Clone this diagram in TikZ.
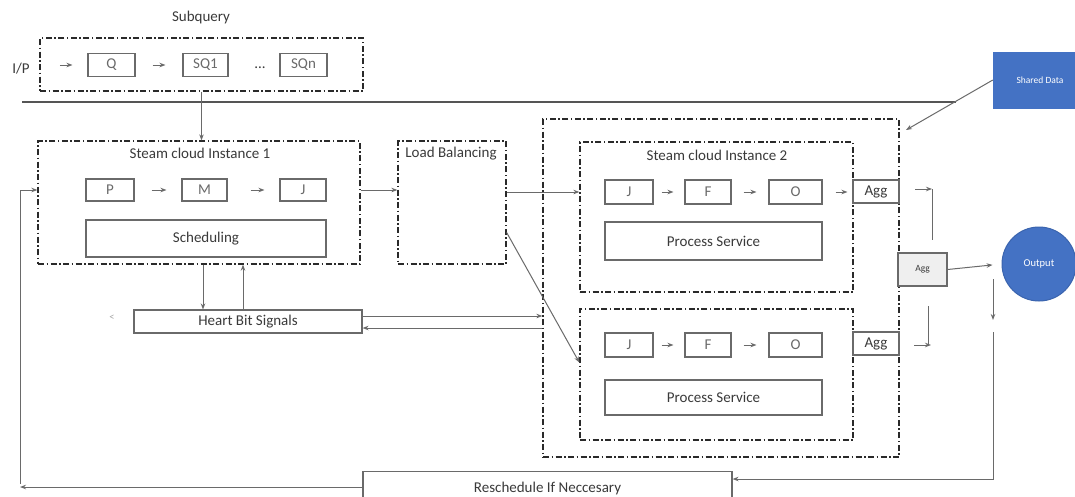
\documentclass[tikz,border=0pt]{standalone}
\usepackage{fontspec}
\setmainfont{Carlito}
\usetikzlibrary{arrows.meta,calc}
\newcommand\mainsz{\fontsize{15}{18}\selectfont}
\newcommand\smallsz{\fontsize{10.5}{12}\selectfont}
\newcommand\tinysz{\fontsize{9.5}{11}\selectfont}
\definecolor{lnc}{HTML}{6A6A6A}
\definecolor{ddc}{HTML}{2A2A2A}
\definecolor{txc}{HTML}{3A3A3A}
\definecolor{ltx}{HTML}{6A6A6A}
\definecolor{blu}{HTML}{4472C4}
\definecolor{bluedge}{HTML}{3A64AE}
\definecolor{aggfill}{HTML}{EFEFEF}
\begin{document}
\begin{tikzpicture}[x=1pt,y=-1pt,
  txt/.style={font=\mainsz, text=txc, inner sep=0pt},
  bx/.style={draw=lnc, line width=1.1pt, fill=white, inner sep=0pt, font=\mainsz, text=txc},
  bxl/.style={bx, text=ltx},
  dd/.style={draw=ddc, line width=1.3pt, dash pattern=on 6pt off 2.5pt on 1.5pt off 2.5pt, inner sep=0pt},
  arr/.style={draw=lnc, line width=1pt, -{Stealth[length=6pt,width=4.5pt]}},
  ln/.style={draw=lnc, line width=1pt},
]
\useasboundingbox (0,0) rectangle (1075,496);
\clip (0,0) rectangle (1075,496);
\fill[white] (0,0) rectangle (1075,496);

% ---------- Subquery ----------
\node[txt] (sublab) at (201,17) {Subquery};
\node[dd, minimum width=323, minimum height=53] (subq) at (201.5,64.5) {};
\node[txt] (ip) at (21,69) {I/P};
\node[bxl, minimum width=47, minimum height=23] (q) at (111.5,65) {Q};
\node[bxl, minimum width=45, minimum height=23] (sq1) at (205.5,65) {SQ1};
\node[txt] (dots) at (260,68) {...};
\node[bxl, minimum width=47, minimum height=23] (sqn) at (303.5,65) {SQn};
\draw[arr, shorten <=30pt, shorten >=15pt] (ip.east |- q) -- (q.west);
\draw[arr, shorten <=17pt, shorten >=17pt] (q) -- (sq1);

% ---------- horizontal rule ----------
\coordinate (hl1) at (22,102);
\coordinate (hl2) at (956,102);
\draw[draw=ddc!80, line width=1.8pt] (hl1) -- (hl2);

% ---------- Instance 1 ----------
\node[dd, minimum width=322, minimum height=123] (inst1) at (199,202.5) {};
\node[txt] (t1) at (200,153) {Steam cloud Instance 1};
\node[bxl, minimum width=48, minimum height=22] (p) at (110,190) {P};
\node[bxl, minimum width=45, minimum height=22] (m) at (204.5,190) {M};
\node[bxl, minimum width=46, minimum height=22] (j) at (303,190) {J};
\node[bx, minimum width=240, minimum height=37] (sched) at (206,238.5) {Scheduling};
\draw[arr, shorten <=17pt, shorten >=15pt] (p) -- (m);
\draw[arr, shorten <=23pt, shorten >=15pt] (m) -- (j);
\draw[arr] (subq.south) -- (subq.south |- inst1.north);

% ---------- Load balancing ----------
\node[dd, minimum width=108, minimum height=123] (lb) at (452,202.5) {};
\node[txt] (lbt) at (451,154) {Load Balancing};
\draw[arr] (inst1.east |- p) -- (lb.west |- p);

% ---------- Heart Bit ----------
\node[bx, minimum width=228, minimum height=23] (hb) at (248,321.5) {Heart Bit Signals};
\node[font=\smallsz, text=gray!70, inner sep=0pt] (lt) at (112,318) {<};
\coordinate (xd) at (203,0);
\coordinate (xu) at (243,0);
\draw[arr] (inst1.south -| xd) -- (hb.north -| xd);
\draw[arr] (hb.north -| xu) -- (inst1.south -| xu);

% ---------- Outer container and instances 2/3 ----------
\node[dd, minimum width=356, minimum height=338] (outer) at (721,288) {};
\node[dd, minimum width=273, minimum height=150] (inst2) at (716.5,217) {};
\node[txt] (t2) at (717,155) {Steam cloud Instance 2};
\node[bxl, minimum width=48, minimum height=24] (j2) at (629,192) {J};
\node[bxl, minimum width=46, minimum height=24] (f2) at (708,192) {F};
\node[bxl, minimum width=53, minimum height=24] (o2) at (795.5,192) {O};
\node[bx, minimum width=217, minimum height=38] (ps2) at (713.5,241) {Process Service};
\draw[arr, shorten <=8pt, shorten >=11pt] (j2) -- (f2);
\draw[arr, shorten <=12pt, shorten >=12pt] (f2) -- (o2);

\node[dd, minimum width=273, minimum height=131] (inst3) at (716.5,374.5) {};
\node[bxl, minimum width=48, minimum height=24] (j3) at (629,345) {J};
\node[bxl, minimum width=46, minimum height=24] (f3) at (708,345) {F};
\node[bxl, minimum width=53, minimum height=24] (o3) at (795.5,345) {O};
\node[bx, minimum width=217, minimum height=35] (ps3) at (713.5,397.5) {Process Service};
\draw[arr, shorten <=8pt, shorten >=11pt] (j3) -- (f3);
\draw[arr, shorten <=12pt, shorten >=12pt] (f3) -- (o3);

% ---------- Agg boxes ----------
\node[bx, minimum width=46, minimum height=23] (agg1) at (876,191.5) {Agg};
\node[bx, minimum width=46, minimum height=23] (agg3) at (876,343.5) {Agg};
\node[bx, fill=aggfill, font=\tinysz, minimum width=49, minimum height=33] (aggm) at (922.5,269.5) {Agg};
\draw[arr, shorten <=13pt, shorten >=5pt] (o2) -- (agg1.west |- o2);

% ---------- Load balancing and Heart bit connectors ----------
\draw[arr] (lb.east |- j2) -- (inst2.west |- j2);
\draw[arr] ($(lb.east)+(0,30)$) -- ($(inst3.west)+(0,-12)$);
\coordinate (ya) at (0,316);
\coordinate (yb) at (0,328);
\draw[arr] (hb.east |- ya) -- (outer.west |- ya);
\draw[arr] (outer.west |- yb) -- (hb.east |- yb);

% ---------- Agg to merged Agg ----------
\coordinate (a1s) at (915,189);
\coordinate (a1e) at (932,189);
\coordinate (a1d) at (932,240);
\draw[arr] (a1s) -- (a1e);
\draw[ln] (a1e) -- (a1d);
\coordinate (a3u) at (928,306);
\coordinate (a3m) at (928,345);
\coordinate (a3s) at (914,345);
\coordinate (a3e) at (931,345);
\draw[ln] (a3u) -- (a3m);
\draw[arr] (a3s) -- (a3e);

% ---------- Shared data and output ----------
\node[fill=blu, draw=blu, minimum width=94, minimum height=56, inner sep=0pt,
      text=white, font=\tinysz] (shared) at (1040,80) {Shared Data};
\coordinate (sdend) at (906,130);
\draw[arr] (shared.west) -- (sdend);

\node[circle, fill=blu, draw=bluedge, line width=1pt, minimum size=74, inner sep=0pt,
      text=white, font=\smallsz] (out) at (1039,264) {Output};
\draw[arr, shorten >=9pt] (aggm.east) -- (out.west);

% ---------- Reschedule ----------
\node[bx, minimum width=369, minimum height=34, anchor=north] (resched) at (547.5,471) {Reschedule If Neccesary};
\coordinate (o1) at (993,279);
\coordinate (o2c) at (993,320);
\coordinate (o3c) at (993,332);
\coordinate (o4c) at (993,479);
\draw[arr] (o1) -- (o2c);
\draw[arr] (o3c) -- (o4c) -- (resched.east |- o4c);

\coordinate (lc) at (20,487);
\coordinate (lcu) at (20,190);
\draw[arr] (resched.west |- lc) -- (lc);
\draw[arr] ($(lc)+(0,-3)$) -- (lcu) -- (inst1.west |- p);
\end{tikzpicture}
\end{document}
